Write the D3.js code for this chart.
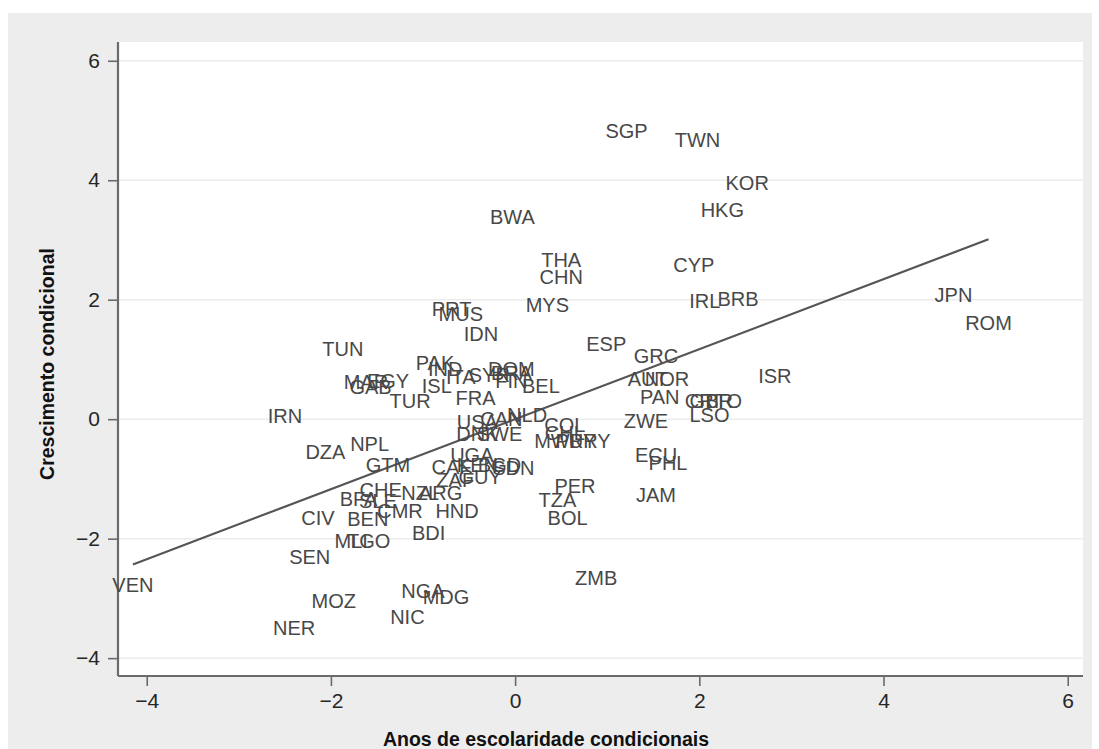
<!DOCTYPE html>
<html>
<head>
<meta charset="utf-8">
<script src="https://cdn.jsdelivr.net/npm/d3@7"></script>
<style>
  html, body { margin: 0; padding: 0; background: #ffffff; }
  svg { display: block; font-family: "Liberation Sans", Arial, sans-serif; }
</style>
</head>
<body>
<svg id="chart" width="1099" height="749"></svg>
<script>
// Country codes and their conditional schooling / conditional growth values
const codes = ["SGP","TWN","KOR","HKG","BWA","THA","CHN","CYP","JPN","ROM",
  "IRL","BRB","PRT","MUS","MYS","IDN","ESP","TUN","GRC","PAK",
  "DOM","ISR","AUT","NOR","IND","ITA","SYR","BRA","FIN","MAR",
  "EGY","GAB","ISL","TUR","FRA","BEL","PAN","CRI","GBR","TTO",
  "LSO","ZWE","IRN","USA","CAN","NLD","DNK","SWE","COL","CHL",
  "MWI","PRY","URY","NPL","DZA","GTM","ECU","PHL","UGA","CAF",
  "KEN","BGD","SDN","ZAF","GUY","CHE","NZL","ARG","BFA","SLE",
  "BEN","CMR","HND","PER","TZA","BOL","JAM","CIV","MLI","TGO",
  "BDI","SEN","VEN","MOZ","NER","NGA","MDG","NIC","ZMB"];
const schooling = [1.21,1.98,2.52,2.25,-0.03,0.50,0.50,1.94,4.76,5.14,
  2.06,2.42,-0.69,-0.59,0.35,-0.37,0.99,-1.87,1.53,-0.87,
  -0.04,2.82,1.44,1.65,-0.76,-0.59,-0.28,-0.04,-0.04,-1.62,
  -1.38,-1.57,-0.85,-1.14,-0.43,0.28,1.57,2.03,2.13,2.25,
  2.11,1.42,-2.50,-0.41,-0.15,0.13,-0.41,-0.17,0.54,0.54,
  0.43,0.66,0.81,-1.58,-2.06,-1.38,1.53,1.66,-0.47,-0.69,
  -0.41,-0.17,-0.02,-0.65,-0.38,-1.46,-1.03,-0.81,-1.70,-1.49,
  -1.60,-1.25,-0.63,0.65,0.46,0.57,1.53,-2.14,-1.78,-1.59,
  -0.94,-2.23,-4.15,-1.97,-2.40,-1.00,-0.75,-1.17,0.88];
const growth = [4.83,4.67,3.95,3.51,3.39,2.67,2.39,2.59,2.09,1.62,
  1.99,2.02,1.85,1.77,1.92,1.43,1.27,1.18,1.06,0.95,
  0.85,0.73,0.68,0.68,0.85,0.71,0.75,0.78,0.65,0.63,
  0.65,0.55,0.56,0.31,0.36,0.56,0.38,0.31,0.31,0.31,
  0.08,-0.02,0.06,-0.04,0.00,0.08,-0.25,-0.25,-0.10,-0.22,
  -0.36,-0.36,-0.36,-0.41,-0.54,-0.76,-0.59,-0.73,-0.59,-0.79,
  -0.77,-0.77,-0.81,-1.02,-0.96,-1.19,-1.23,-1.23,-1.33,-1.36,
  -1.66,-1.53,-1.53,-1.11,-1.35,-1.65,-1.26,-1.65,-2.03,-2.03,
  -1.90,-2.30,-2.78,-3.04,-3.50,-2.87,-2.97,-3.30,-2.65];

// Fitted line: growth = intercept + slope * schooling
const fitIntercept = 0.0;
const fitSlope = 0.586;

const xTicks = [-4, -2, 0, 2, 4, 6];
const yTicks = [-4, -2, 0, 2, 4, 6];
const xTitle = "Anos de escolaridade condicionais";
const yTitle = "Crescimento condicional";

const svg = d3.select("#chart");

// Outer gray panel
svg.append("rect").attr("x", 8).attr("y", 13).attr("width", 1084).attr("height", 740)
  .attr("fill", "#ededed");

const plot = { left: 118, right: 1083, top: 42, bottom: 676 };
svg.append("rect").attr("x", plot.left).attr("y", plot.top)
  .attr("width", plot.right - plot.left).attr("height", plot.bottom - plot.top)
  .attr("fill", "#ffffff");

const x = d3.scaleLinear().domain([-4.312, 6.166]).range([plot.left, plot.right]);
const y = d3.scaleLinear().domain([-4.299, 6.314]).range([plot.bottom, plot.top]);

// Horizontal grid lines
svg.append("g").selectAll("line").data(yTicks).join("line")
  .attr("x1", plot.left).attr("x2", plot.right)
  .attr("y1", d => y(d)).attr("y2", d => y(d))
  .attr("stroke", "#ececec").attr("stroke-width", 1.5);

// Axes
const fmt = d => d < 0 ? "\u2212" + Math.abs(d) : String(d);
const yAxis = svg.append("g").attr("transform", `translate(${plot.left},0)`)
  .call(d3.axisLeft(y).tickValues(yTicks).tickFormat(fmt).tickSize(10).tickPadding(8));
const xAxis = svg.append("g").attr("transform", `translate(0,${plot.bottom})`)
  .call(d3.axisBottom(x).tickValues(xTicks).tickFormat(fmt).tickSize(10).tickPadding(7));
[xAxis, yAxis].forEach(g => {
  g.select(".domain").attr("stroke", "#6a6a6a").attr("stroke-width", 2.2);
  g.selectAll(".tick line").attr("stroke", "#6a6a6a").attr("stroke-width", 1.6);
  g.selectAll(".tick text").attr("fill", "#262626").attr("font-size", 21)
    .attr("font-family", "'Liberation Sans', Arial, sans-serif");
});
yAxis.select(".domain").attr("d", `M0,${plot.bottom}V${plot.top}`);
xAxis.select(".domain").attr("d", `M${plot.left},0H${plot.right}`);

// Fitted line across the range of the data
const xMin = d3.min(schooling), xMax = d3.max(schooling);
svg.append("line")
  .attr("x1", x(xMin)).attr("y1", y(fitIntercept + fitSlope * xMin))
  .attr("x2", x(xMax)).attr("y2", y(fitIntercept + fitSlope * xMax))
  .attr("stroke", "#555").attr("stroke-width", 2.2);

// Country labels as markers
const pts = codes.map((c, i) => ({ c, sx: schooling[i], gy: growth[i] }));
svg.append("g").selectAll("text").data(pts).join("text")
  .attr("x", d => x(d.sx)).attr("y", d => y(d.gy))
  .attr("text-anchor", "middle").attr("dy", "0.36em")
  .attr("font-size", 20).attr("fill", "#484848")
  .text(d => d.c);

// Axis titles
svg.append("text").attr("x", 546).attr("y", 746)
  .attr("text-anchor", "middle").attr("font-size", 19.5).attr("font-weight", "bold")
  .attr("fill", "#111").text(xTitle);
svg.append("text").attr("transform", "translate(54,364) rotate(-90)")
  .attr("text-anchor", "middle").attr("font-size", 19.5).attr("font-weight", "bold")
  .attr("fill", "#111").text(yTitle);
</script>
</body>
</html>
